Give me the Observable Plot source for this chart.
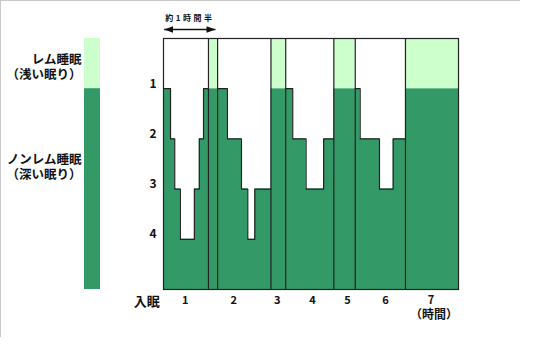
<!DOCTYPE html>
<html>
<head>
<meta charset="utf-8">
<script src="https://cdn.jsdelivr.net/npm/d3@7"></script>
<script src="https://cdn.jsdelivr.net/npm/@observablehq/plot@0.6"></script>
<style>
html, body { margin: 0; padding: 0; background: #fff; }
#wrap { position: relative; width: 552px; height: 347px; display: flex; overflow: hidden; }
#edge { position: absolute; left: 0; top: 0; width: 519px; height: 336px;
        border-top: 1px solid #c8c8c8; border-left: 1px solid #c8c8c8; pointer-events: none; }
svg { font-family: "Noto Sans CJK JP", "Noto Sans CJK SC", sans-serif; font-weight: bold; }
</style>
</head>
<body>
<div id="wrap"><div id="edge"></div></div>
<script>
// ---------- data ----------
// sleep depth levels (y), 0 = top of REM band, 5 = bottom
const levelTicks = [1, 2, 3, 4];
const levelLabels = ["1", "2", "3", "4"];

// time axis, in minutes from sleep onset (schematic)
const hourTicks = [-24, 31, 100, 162, 212, 262, 316, 381];
const hourLabels = ["入眠", "1", "2", "3", "4", "5", "6", "7"];
const unitLabel = "（時間）";
const timeEnd = 420;

// non-REM cycles: change times and the depth held after each change
const cycle1Times = [0, 10, 16, 24, 44, 51, 57, 64];
const cycle1Depth = [1, 2, 3, 4, 3, 2, 1];
const cycle2Times = [77, 91, 111, 120, 130, 153];
const cycle2Depth = [1, 2, 3, 4, 3];
const cycle3Times = [174, 184, 203, 228, 242.5];
const cycle3Depth = [1, 2, 3, 2];
const cycle4Times = [273, 280, 307.5, 327, 344.5];
const cycle4Depth = [1, 2, 3, 2];

// REM periods
const remStarts = [64, 153, 242.5, 344.5];
const remEnds = [77, 174, 273, 420];

// stages (legend bar)
const stageNames = ["レム睡眠", "ノンレム睡眠"];
const stageNotes = ["（浅い眠り）", "（深い眠り）"];
const stageFrom = [0, 1];
const stageTo = [1, 5];

// span annotation
const spanLabel = "約1時間半";
const spanFrom = 1;
const spanTo = 74;

// ---------- styles ----------
const DARK = "#339966";
const LIGHT = "#ccffcc";
const INK = "#222";
const TEXT = "#111";

// ---------- derived tables ----------
const cycles = [
  [cycle1Times, cycle1Depth], [cycle2Times, cycle2Depth],
  [cycle3Times, cycle3Depth], [cycle4Times, cycle4Depth]
];
const outline = [];
cycles.forEach(([times, depth], c) => {
  times.forEach((t, i) => outline.push({cycle: c, t, depth: depth[Math.min(i, depth.length - 1)]}));
});
const rem = remStarts.map((s, i) => ({start: s, end: remEnds[i], from: stageFrom[0], to: stageTo[0]}));
const boundaries = remStarts.concat(remEnds).filter(t => t < timeEnd);
const stages = stageNames.map((n, i) => ({label: n + "\n" + stageNotes[i], from: stageFrom[i], to: stageTo[i]}));
const hours = hourTicks.map((t, i) => ({
  t, label: hourLabels[i] + (i === hourTicks.length - 1 ? "\n" + unitLabel : "")
}));
const span = {from: spanFrom, to: spanTo, label: spanLabel};

// filled triangular arrow head
function arrowHead(color) {
  const ns = "http://www.w3.org/2000/svg";
  const m = document.createElementNS(ns, "marker");
  m.setAttribute("viewBox", "-9 -4 9 8");
  m.setAttribute("markerWidth", "9");
  m.setAttribute("markerHeight", "8");
  m.setAttribute("markerUnits", "userSpaceOnUse");
  m.setAttribute("orient", "auto-start-reverse");
  m.setAttribute("refX", "0");
  m.setAttribute("refY", "0");
  m.setAttribute("fill", color);
  m.setAttribute("stroke", "none");
  const p = document.createElementNS(ns, "path");
  p.setAttribute("d", "M-9,-3.2L0,0L-9,3.2Z");
  m.appendChild(p);
  return m;
}

const yScale = {domain: [0, 5], reverse: true, axis: null};
const labelOpts = {y: "from", text: "label", frameAnchor: "left", textAnchor: "end",
  lineAnchor: "top", lineHeight: 1.2, dx: -3, fontSize: 12.5, fill: TEXT};

// ---------- legend bar ----------
const legend = Plot.plot({
  width: 110, height: 347,
  marginLeft: 84, marginRight: 10, marginTop: 38, marginBottom: 58,
  y: yScale,
  marks: [
    Plot.rect([stages[0]], {y1: "from", y2: "to", fill: LIGHT}),
    Plot.rect([stages[1]], {y1: "from", y2: "to", fill: DARK}),
    Plot.text([stages[0]], {...labelOpts, dy: 15}),
    Plot.text([stages[1]], {...labelOpts, dy: 65})
  ]
});

// ---------- main chart ----------
const chart = Plot.plot({
  width: 442, height: 347,
  marginLeft: 53, marginRight: 94, marginTop: 38, marginBottom: 58,
  x: {domain: [0, timeEnd], axis: null},
  y: yScale,
  marks: [
    Plot.rect([stages[1]], {y1: "from", y2: "to", fill: DARK}),
    Plot.rect(rem, {x1: "start", x2: "end", y1: "from", y2: "to", fill: LIGHT}),
    Plot.areaY(outline, {x: "t", y1: () => stageFrom[0], y2: "depth", z: "cycle",
      curve: "step-after", fill: "white"}),
    Plot.line(outline, {x: "t", y: "depth", z: "cycle", curve: "step-after", stroke: INK, strokeWidth: 1.2}),
    Plot.ruleX(boundaries, {stroke: INK, strokeWidth: 1.2}),
    Plot.frame({stroke: INK, strokeWidth: 1.2}),
    Plot.text(levelTicks, {y: d => d, text: (d, i) => levelLabels[i], frameAnchor: "left",
      textAnchor: "end", dx: -7, dy: -5, fontSize: 12, fill: TEXT}),
    Plot.text(hours, {x: "t", text: "label", frameAnchor: "bottom", lineAnchor: "top",
      lineHeight: 1.25, dy: 5,
      fontSize: d => /^\d+$/.test(d.label) ? 11 : (d.label.includes("\n") ? 12 : 13), fill: TEXT}),
    Plot.link([span], {x1: "from", x2: "to", y1: () => 0, y2: () => 0, dy: -9,
      stroke: TEXT, strokeWidth: 1.6, markerStart: arrowHead, markerEnd: arrowHead}),
    Plot.text([span], {x: d => (d.from + d.to) / 2, text: "label", frameAnchor: "top",
      dy: -23, fontSize: 8, fill: TEXT})
  ]
});

const wrap = document.getElementById("wrap");
wrap.appendChild(legend);
wrap.appendChild(chart);
const svgChart = d3.select(chart);
svgChart.selectAll("text").filter(function () { return this.textContent === spanLabel; })
  .style("letter-spacing", "2.5px");
// the last hour digit matches the other digits; its unit line sits slightly right
svgChart.selectAll("tspan").each(function () {
  const t = this.textContent;
  if (t === hourLabels[hourLabels.length - 1]) this.style.fontSize = "11px";
  if (t === unitLabel) this.setAttribute("dx", "3");
});
</script>
</body>
</html>
